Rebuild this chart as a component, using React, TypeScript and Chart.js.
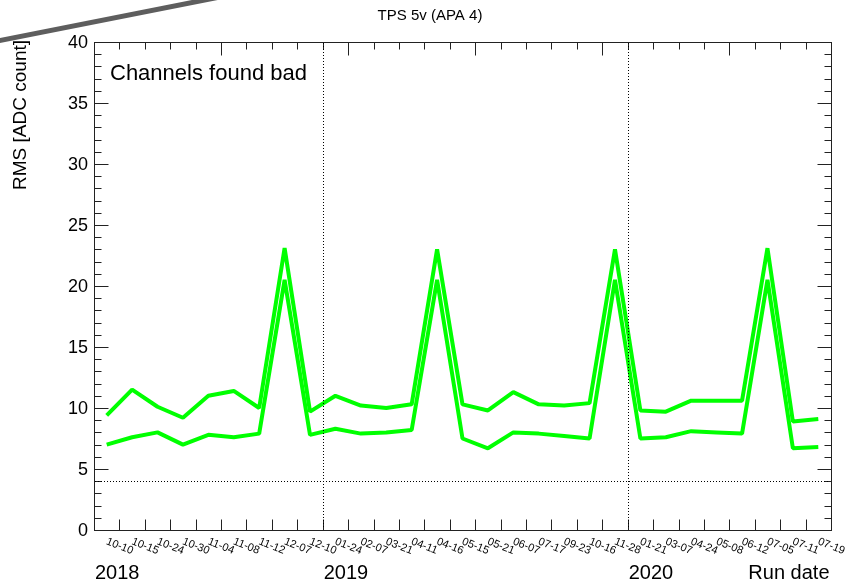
import React, { useEffect, useRef } from "react";
import { Chart, registerables } from "chart.js";

Chart.register(...registerables);

const dateLabels = [
  "10-10", "10-15", "10-24", "10-30", "11-04", "11-08", "11-12", "12-07", "12-10",
  "01-24", "02-07", "03-21", "04-11", "04-16", "05-15", "05-21", "06-07", "07-17", "09-23", "10-16", "11-28",
  "01-21", "03-07", "04-24", "05-08", "06-12", "07-05", "07-11", "07-19",
];
const upperRms = [9.4, 11.5, 10.1, 9.2, 11.0, 11.4, 10.0, 23.1, 9.7, 11.0, 10.2, 10.0, 10.3, 23.0, 10.3, 9.8, 11.3, 10.3, 10.2, 10.4, 23.0, 9.8, 9.7, 10.6, 10.6, 10.6, 23.1, 8.9, 9.1];
const lowerRms = [7.0, 7.6, 8.0, 7.0, 7.8, 7.6, 7.9, 20.5, 7.8, 8.3, 7.9, 8.0, 8.2, 20.5, 7.5, 6.7, 8.0, 7.9, 7.7, 7.5, 20.5, 7.5, 7.6, 8.1, 8.0, 7.9, 20.5, 6.7, 6.8];
const yTickValues = [0, 5, 10, 15, 20, 25, 30, 35, 40];
const yMin = 0;
const yMax = 40;
const yearLabels = ["2018", "2019", "2020"];
const yearStartIndex = [0, 9, 21];
const thresholdValue = 4;
const titleText = "TPS 5v (APA 4)";
const yAxisTitle = "RMS [ADC count]";
const xAxisTitle = "Run date";
const annotationText = "Channels found bad";

const FONT = "'Liberation Sans', Arial, Helvetica, sans-serif";

const rootStylePlugin = {
  id: "rootStyle",
  beforeDatasetsDraw(chart: any) {
    const { ctx, chartArea, scales } = chart;
    const x = scales.x;
    const y = scales.y;
    const L = Math.round(chartArea.left) + 0.5;
    const R = Math.round(chartArea.right) + 0.5;
    const T = Math.round(chartArea.top) + 0.5;
    const B = Math.round(chartArea.bottom) + 0.5;
    const half = (x.getPixelForValue(1) - x.getPixelForValue(0)) / 2;
    ctx.save();
    ctx.strokeStyle = "#222";
    ctx.lineWidth = 1;
    // frame
    ctx.strokeRect(L, T, R - L, B - T);
    // y ticks (left and right), minor every 1, major every 5
    for (let v = yMin; v <= yMax; v++) {
      const py = Math.round(y.getPixelForValue(v)) + 0.5;
      const len = v % 5 === 0 ? 14 : 7;
      ctx.beginPath();
      ctx.moveTo(L, py);
      ctx.lineTo(L + len, py);
      ctx.moveTo(R, py);
      ctx.lineTo(R - len, py);
      ctx.stroke();
    }
    // x ticks at bin edges
    for (let i = 0; i <= dateLabels.length; i++) {
      const px = Math.round(x.getPixelForValue(Math.min(i, dateLabels.length - 1)) + (i === dateLabels.length ? half : -half)) + 0.5;
      const lenTop = i % 5 === 0 ? 13 : 7;
      ctx.beginPath();
      ctx.moveTo(px, T);
      ctx.lineTo(px, T + lenTop);
      ctx.moveTo(px, B);
      ctx.lineTo(px, B - 11);
      ctx.stroke();
    }
    ctx.restore();

    ctx.save();
    ctx.fillStyle = "#000";
    // title
    ctx.font = `15px ${FONT}`;
    ctx.textAlign = "center";
    ctx.textBaseline = "middle";
    ctx.fillText(titleText, 430, 16);
    // y tick labels
    ctx.font = `18px ${FONT}`;
    ctx.textAlign = "right";
    ctx.textBaseline = "middle";
    yTickValues.forEach((v) => {
      ctx.fillText(String(v), 88, y.getPixelForValue(v) + 1);
    });
    // y title
    ctx.save();
    ctx.translate(21, 40);
    ctx.rotate(-Math.PI / 2);
    ctx.font = `19px ${FONT}`;
    ctx.textAlign = "right";
    ctx.textBaseline = "middle";
    ctx.fillText(yAxisTitle, 0, 0);
    ctx.restore();
    // annotation
    ctx.font = `22px ${FONT}`;
    ctx.textAlign = "left";
    ctx.textBaseline = "middle";
    ctx.fillText(annotationText, 110, 74);
    // date labels (rotated clockwise)
    ctx.font = `11px ${FONT}`;
    dateLabels.forEach((lab, i) => {
      const cx = x.getPixelForValue(i);
      ctx.save();
      ctx.translate(cx + 2, 536);
      ctx.rotate(0.38);
      ctx.textAlign = "left";
      ctx.textBaseline = "top";
      ctx.fillText(lab, 0, 0);
      ctx.restore();
    });
    // year labels
    ctx.font = `20px ${FONT}`;
    ctx.textBaseline = "alphabetic";
    ctx.textAlign = "left";
    yearLabels.forEach((yr, k) => {
      const px = x.getPixelForValue(yearStartIndex[k]) - half;
      ctx.fillText(yr, px + 1, 579);
    });
    ctx.textAlign = "right";
    ctx.fillText(xAxisTitle, R - 2, 579);
    ctx.restore();
  },
  afterDatasetsDraw(chart: any) {
    const { ctx, chartArea, scales } = chart;
    const x = scales.x;
    const y = scales.y;
    const half = (x.getPixelForValue(1) - x.getPixelForValue(0)) / 2;
    ctx.save();
    ctx.strokeStyle = "#000";
    ctx.lineWidth = 1;
    ctx.setLineDash([1, 2]);
    const py = Math.round(y.getPixelForValue(thresholdValue)) + 0.5;
    ctx.beginPath();
    ctx.moveTo(chartArea.left + 1, py);
    ctx.lineTo(chartArea.right - 1, py);
    ctx.stroke();
    yearStartIndex.slice(1).forEach((idx) => {
      const px = Math.round(x.getPixelForValue(idx) - half) + 0.5;
      ctx.beginPath();
      ctx.moveTo(px, chartArea.top + 1);
      ctx.lineTo(px, chartArea.bottom - 1);
      ctx.stroke();
    });
    ctx.restore();
  },
  afterDraw(chart: any) {
    const { ctx } = chart;
    ctx.save();
    ctx.strokeStyle = "#5e5e5e";
    ctx.lineWidth = 5;
    ctx.beginPath();
    ctx.moveTo(-10, 42.5);
    ctx.lineTo(225, -4);
    ctx.stroke();
    ctx.restore();
  },
};

export default function App() {
  const canvasRef = useRef<HTMLCanvasElement | null>(null);

  useEffect(() => {
    if (!canvasRef.current) return;
    const chart = new Chart(canvasRef.current, {
      type: "line",
      data: {
        labels: dateLabels,
        datasets: [
          {
            label: "upper",
            data: upperRms,
            borderColor: "#00ff00",
            borderWidth: 4,
            borderJoinStyle: "bevel",
            pointRadius: 0,
            tension: 0,
            fill: false,
          },
          {
            label: "lower",
            data: lowerRms,
            borderColor: "#00ff00",
            borderWidth: 4,
            borderJoinStyle: "bevel",
            pointRadius: 0,
            tension: 0,
            fill: false,
          },
        ],
      },
      options: {
        responsive: false,
        animation: false,
        layout: { padding: { left: 94, right: 29, top: 42, bottom: 54 } },
        plugins: {
          legend: { display: false },
          tooltip: { enabled: false },
          title: { display: false },
        },
        scales: {
          x: { type: "category", offset: true, display: false },
          y: { type: "linear", min: yMin, max: yMax, display: false },
        },
      },
      plugins: [rootStylePlugin],
    });
    return () => chart.destroy();
  }, []);

  return (
    <div style={{ position: "absolute", left: 0, top: 0, width: 860, height: 584, background: "#fff" }}>
      <canvas ref={canvasRef} width={860} height={584} style={{ display: "block" }} />
    </div>
  );
}
